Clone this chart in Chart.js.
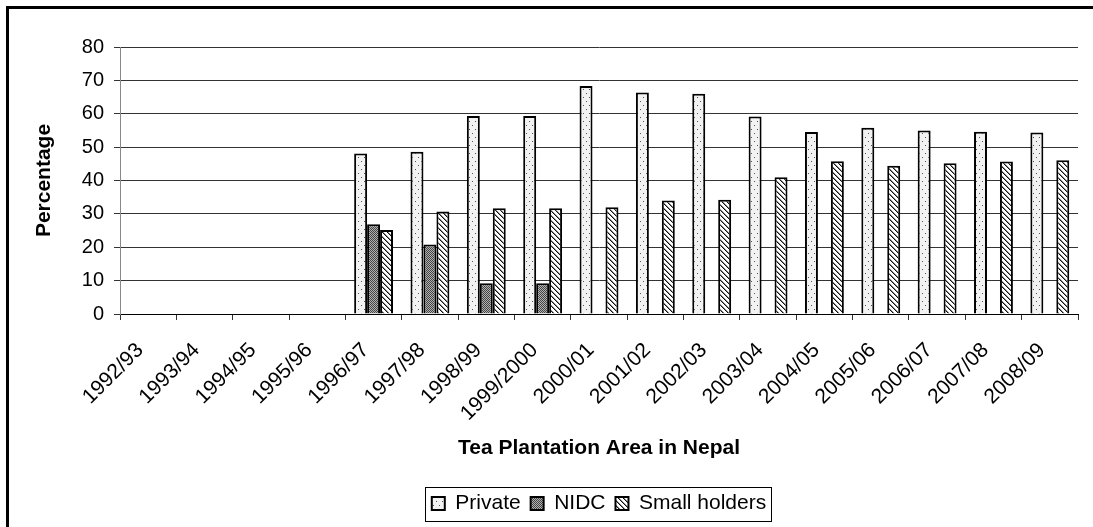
<!DOCTYPE html>
<html>
<head>
<meta charset="utf-8">
<title>Tea Plantation Area in Nepal</title>
<script src="https://cdn.jsdelivr.net/npm/chart.js@4.4.0/dist/chart.umd.min.js"></script>
<style>
  html, body { margin: 0; padding: 0; background: #fff; overflow: hidden; }
  #wrap { position: relative; width: 1093px; height: 527px; }
</style>
</head>
<body>
<div id="wrap"><canvas id="teaChart" width="1093" height="527"></canvas></div>
<script>
// tea plantation share by owner type (%)
const years = ['1992/93', '1993/94', '1994/95', '1995/96', '1996/97', '1997/98', '1998/99', '1999/2000',
  '2000/01', '2001/02', '2002/03', '2003/04', '2004/05', '2005/06', '2006/07', '2007/08', '2008/09'];
const privateShare = [null, null, null, null, 48.1, 48.6, 59.3, 59.3, 68.3, 66.4, 66.0, 59.2, 54.5, 55.8, 55.0, 54.6, 54.4];
const nidcShare = [null, null, null, null, 26.9, 20.8, 9.2, 9.2, null, null, null, null, null, null, null, null, null];
const smallHolderShare = [null, null, null, null, 25.2, 30.7, 31.7, 31.7, 32.0, 34.0, 34.2, 41.0, 45.8, 44.4, 45.2, 45.7, 46.1];
const yTicks = [0, 10, 20, 30, 40, 50, 60, 70, 80];

const FONT = '"Liberation Sans", Arial, sans-serif';

// small tiled fills, like the old excel pattern fills
function makePattern(w, h, draw) {
  const c = document.createElement('canvas');
  c.width = w; c.height = h;
  const g = c.getContext('2d');
  draw(g);
  return g.createPattern(c, 'repeat');
}

const dotted = makePattern(6, 8, g => {
  g.fillStyle = '#f2f2f2';
  g.fillRect(0, 0, 6, 8);
  g.fillStyle = '#555';
  g.fillRect(1, 1, 1, 1);
  g.fillRect(4, 5, 1, 1);
});

const checker = makePattern(2, 2, g => {
  g.fillStyle = '#b0b0b0';
  g.fillRect(0, 0, 2, 2);
  g.fillStyle = '#454545';
  g.fillRect(0, 0, 1, 1);
  g.fillRect(1, 1, 1, 1);
});

const stripes = makePattern(5, 5, g => {
  g.fillStyle = '#fff';
  g.fillRect(0, 0, 5, 5);
  for (let i = 0; i < 5; i++) {
    g.fillStyle = '#111';
    g.fillRect(i, i, 1, 1);
    g.fillStyle = '#888';
    g.fillRect((i + 1) % 5, i, 1, 1);
  }
});

// white page + heavy frame on the left and top (the rest is cut off by the window)
const framePlugin = {
  id: 'frame',
  beforeDraw(chart) {
    const ctx = chart.ctx;
    ctx.save();
    ctx.fillStyle = '#fff';
    ctx.fillRect(0, 0, chart.width, chart.height);
    ctx.fillStyle = '#000';
    ctx.fillRect(6, 6, 3, chart.height - 6);
    ctx.fillRect(6, 6, chart.width - 6, 3);
    ctx.restore();
  }
};

// centre the legend under the plot area rather than the whole canvas
const legendShiftPlugin = {
  id: 'legendShift',
  afterLayout(chart) {
    const lg = chart.legend;
    if (!lg) return;
    const dx = (chart.chartArea.left + chart.chartArea.right) / 2 - (lg.left + lg.right) / 2;
    lg.left += dx;
    lg.right += dx;
  }
};

// thin box around the legend items
const legendBoxPlugin = {
  id: 'legendBox',
  afterDraw(chart) {
    const boxes = chart.legend && chart.legend.legendHitBoxes;
    if (!boxes || !boxes.length) return;
    let l = Infinity, r = -Infinity, t = Infinity, b = -Infinity;
    boxes.forEach(h => {
      l = Math.min(l, h.left);
      r = Math.max(r, h.left + h.width);
      t = Math.min(t, h.top);
      b = Math.max(b, h.top + h.height);
    });
    const mid = (t + b) / 2;
    const ctx = chart.ctx;
    ctx.save();
    ctx.strokeStyle = '#000';
    ctx.lineWidth = 1;
    ctx.strokeRect(Math.round(l - 7) + 0.5, Math.round(mid - 17) + 0.5, Math.round(r - l + 12), 34);
    ctx.restore();
  }
};

const barStyle = { borderColor: '#000', borderWidth: 2, barPercentage: 1, categoryPercentage: 0.69 };

new Chart(document.getElementById('teaChart'), {
  type: 'bar',
  data: {
    labels: years,
    datasets: [
      Object.assign({ label: 'Private', data: privateShare, backgroundColor: dotted }, barStyle),
      Object.assign({ label: 'NIDC', data: nidcShare, backgroundColor: checker }, barStyle),
      Object.assign({ label: 'Small holders', data: smallHolderShare, backgroundColor: stripes }, barStyle)
    ]
  },
  options: {
    responsive: false,
    animation: false,
    layout: { padding: { top: 47, right: 15, bottom: 3, left: 0 } },
    plugins: {
      tooltip: { enabled: false },
      legend: {
        position: 'bottom',
        labels: {
          color: '#000',
          font: { family: FONT, size: 21 },
          boxWidth: 13,
          boxHeight: 13,
          padding: 10
        }
      }
    },
    scales: {
      x: {
        afterFit: s => { s.height = 169; },
        grid: { display: true, drawOnChartArea: false, drawTicks: true, tickLength: 6, color: '#333' },
        border: { color: '#000' },
        ticks: {
          color: '#000',
          font: { family: FONT, size: 21 },
          minRotation: 45,
          maxRotation: 45,
          autoSkip: false,
          padding: 18,
          labelOffset: -8
        },
        title: {
          display: true,
          text: 'Tea Plantation Area in Nepal',
          color: '#000',
          font: { family: FONT, size: 21, weight: 'bold' },
          padding: { top: 0, bottom: 22 }
        }
      },
      y: {
        min: 0,
        max: 80,
        afterFit: s => { s.width = 120; },
        afterBuildTicks: s => { s.ticks = yTicks.map(v => ({ value: v })); },
        grid: { color: '#333', lineWidth: 1, tickLength: 6 },
        border: { color: '#888' },
        ticks: {
          color: '#000',
          font: { family: FONT, size: 20 },
          padding: 10
        },
        title: {
          display: true,
          text: 'Percentage',
          color: '#000',
          font: { family: FONT, size: 21, weight: 'bold' },
          padding: { top: 32, bottom: 0 }
        }
      }
    }
  },
  plugins: [framePlugin, legendShiftPlugin, legendBoxPlugin]
});
</script>
</body>
</html>
